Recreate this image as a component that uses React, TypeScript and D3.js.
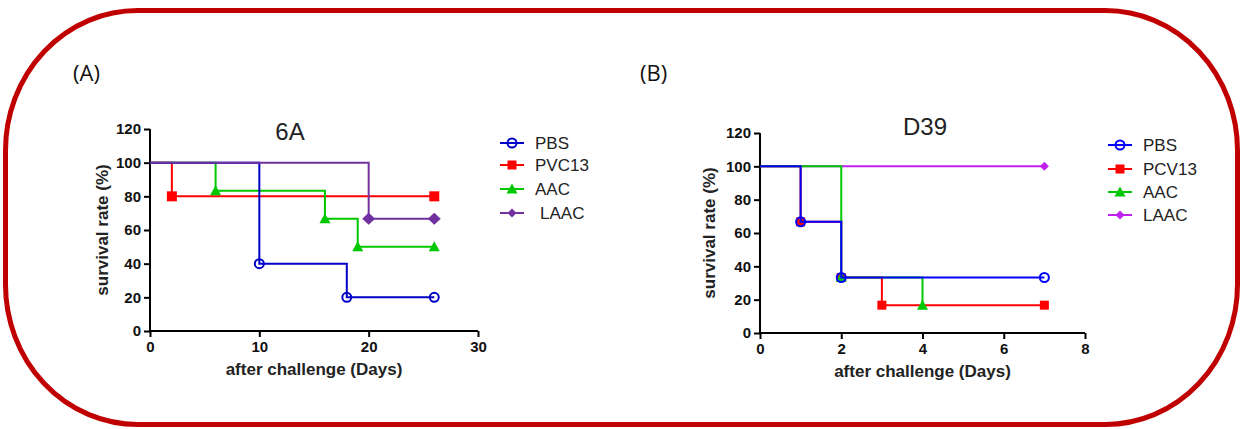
import React, { useEffect, useRef } from "react";
import * as d3 from "d3";

// Panel A (6A) - Kaplan-Meier steps: event days and survival %
const pbsA_days = [0, 10, 18, 26];
const pbsA_surv = [100, 40, 20, 20];
const pvcA_days = [0, 2, 26];
const pvcA_surv = [100, 80, 80];
const aacA_days = [0, 6, 16, 19, 26];
const aacA_surv = [100, 83.3, 66.7, 50, 50];
const laacA_days = [0, 20, 26];
const laacA_surv = [100, 66.7, 66.7];

// Panel B (D39)
const pbsB_days = [0, 1, 2, 7];
const pbsB_surv = [100, 66.7, 33.3, 33.3];
const pcvB_days = [0, 1, 2, 3, 7];
const pcvB_surv = [100, 66.7, 33.3, 16.7, 16.7];
const aacB_days = [0, 2, 4];
const aacB_surv = [100, 33.3, 16.7];
const laacB_days = [0, 7];
const laacB_surv = [100, 100];

const yTicks = [0, 20, 40, 60, 80, 100, 120];
const xTicksA = [0, 10, 20, 30];
const xTicksB = [0, 2, 4, 6, 8];

const legendA = ["PBS", "PVC13", "AAC", "LAAC"];
const legendB = ["PBS", "PCV13", "AAC", "LAAC"];

const zip = (xs, ys) => xs.map((x, i) => ({ x, y: ys[i] }));

function drawMarker(g, shape, color, cx, cy, small) {
  if (shape === "circle") {
    g.append("circle")
      .attr("cx", cx)
      .attr("cy", cy)
      .attr("r", 4.5)
      .attr("fill", "none")
      .attr("stroke", color)
      .attr("stroke-width", 2);
  } else if (shape === "square") {
    const s = small ? 9 : 10;
    g.append("rect")
      .attr("x", cx - s / 2)
      .attr("y", cy - s / 2)
      .attr("width", s)
      .attr("height", s)
      .attr("fill", color);
  } else if (shape === "triangle") {
    const w = 11, h = 9;
    g.append("path")
      .attr("transform", `translate(${cx},${cy})`)
      .attr("d", `M0,${-h / 2 - 1}L${w / 2},${h / 2}L${-w / 2},${h / 2}Z`)
      .attr("fill", color);
  } else {
    const w = small ? 9 : 13, h = small ? 9 : 12;
    g.append("path")
      .attr("transform", `translate(${cx},${cy})`)
      .attr("d", `M0,${-h / 2}L${w / 2},0L0,${h / 2}L${-w / 2},0Z`)
      .attr("fill", color);
  }
}

function drawPanel(svg, cfg) {
  const x = d3.scaleLinear().domain(cfg.xDomain).range(cfg.xRange);
  const y = d3.scaleLinear().domain([0, 120]).range(cfg.yRange);
  const font = "Arial, 'Liberation Sans', sans-serif";

  const yAxis = svg
    .append("g")
    .attr("transform", `translate(${cfg.xRange[0]},0)`)
    .call(d3.axisLeft(y).tickValues(yTicks).tickSize(6).tickPadding(3));
  const xAxis = svg
    .append("g")
    .attr("transform", `translate(0,${cfg.yRange[0]})`)
    .call(d3.axisBottom(x).tickValues(cfg.xTicks).tickSize(6).tickPadding(4));

  [yAxis, xAxis].forEach((ax) => {
    ax.select(".domain").attr("stroke", "#000").attr("stroke-width", 2);
    ax.selectAll(".tick line").attr("stroke", "#000").attr("stroke-width", 2);
    ax.selectAll("text")
      .style("font", `bold 15px ${font}`)
      .attr("fill", "#111");
  });
  yAxis.select(".domain").attr("d", `M0,${cfg.yRange[0]}V${cfg.yRange[1]}`);
  xAxis.select(".domain").attr("d", `M${cfg.xRange[0]},0H${cfg.xRange[1]}`);

  const line = d3
    .line()
    .x((d) => x(d.x))
    .y((d) => y(d.y))
    .curve(d3.curveStepAfter);

  cfg.series.forEach((s) => {
    const pts = zip(s.days, s.surv);
    const g = svg.append("g");
    g.append("path")
      .attr("d", line(pts))
      .attr("fill", "none")
      .attr("stroke", s.color)
      .attr("stroke-width", 2);
    pts.slice(1).forEach((p) => {
      drawMarker(g, s.shape, s.color, x(p.x), y(p.y), cfg.small);
    });
  });

  // title
  svg
    .append("text")
    .attr("x", cfg.titleX)
    .attr("y", cfg.titleY)
    .attr("text-anchor", "middle")
    .style("font", `24px ${font}`)
    .attr("fill", "#222")
    .text(cfg.title);

  svg
    .append("text")
    .attr("x", (cfg.xRange[0] + cfg.xRange[1]) / 2 - cfg.xLabelShift)
    .attr("y", cfg.yRange[0] + 44)
    .attr("text-anchor", "middle")
    .style("font", `bold 17px ${font}`)
    .attr("fill", "#222")
    .text("after challenge (Days)");

  svg
    .append("text")
    .attr(
      "transform",
      `translate(${cfg.yLabelX},${(cfg.yRange[0] + cfg.yRange[1]) / 2}) rotate(-90)`
    )
    .attr("text-anchor", "middle")
    .style("font", `bold 17px ${font}`)
    .attr("fill", "#222")
    .text("survival rate (%)");

  // panel letter
  svg
    .append("text")
    .attr("x", cfg.letterX)
    .attr("y", 81)
    .style("font", `22px 'Open Sans', Arial, sans-serif`)
    .attr("fill", "#111")
    .text(cfg.letter);

  // legend
  cfg.series
    .slice()
    .sort((a, b) => a.legendIndex - b.legendIndex)
    .forEach((s, i) => {
      const ly = cfg.legendY[i];
      const lg = svg.append("g");
      lg.append("line")
        .attr("x1", cfg.legendX - 12)
        .attr("x2", cfg.legendX + 12)
        .attr("y1", ly)
        .attr("y2", ly)
        .attr("stroke", s.color)
        .attr("stroke-width", 2);
      drawMarker(lg, s.shape, s.color, cfg.legendX, ly, true);
      lg.append("text")
        .attr("x", cfg.legendX + 23 + (i === 3 && !cfg.small ? 5 : 0))
        .attr("y", ly + 6)
        .style("font", `17px ${font}`)
        .attr("fill", "#222")
        .text(cfg.labels[s.legendIndex]);
    });
}

export default function App() {
  const ref = useRef(null);

  useEffect(() => {
    if (!ref.current) return;
    ref.current.innerHTML = "";
    const svg = d3
      .select(ref.current)
      .append("svg")
      .attr("width", 1244)
      .attr("height", 429)
      .style("display", "block");

    svg
      .append("rect")
      .attr("width", 1244)
      .attr("height", 429)
      .attr("fill", "#fff");

    svg
      .append("rect")
      .attr("x", 5.5)
      .attr("y", 10.5)
      .attr("width", 1232)
      .attr("height", 414)
      .attr("rx", 132)
      .attr("ry", 140)
      .attr("fill", "none")
      .attr("stroke", "#c00000")
      .attr("stroke-width", 5);

    drawPanel(svg, {
      xDomain: [0, 30],
      xRange: [150, 478],
      yRange: [331, 129],
      xTicks: xTicksA,
      title: "6A",
      titleX: 290,
      titleY: 140,
      xLabelShift: 0,
      yLabelX: 108,
      letter: "(A)",
      letterX: 73,
      legendX: 512,
      legendY: [143, 165, 189, 213],
      labels: legendA,
      small: false,
      series: [
        { days: pvcA_days, surv: pvcA_surv, color: "#ff0000", shape: "square", legendIndex: 1 },
        { days: aacA_days, surv: aacA_surv, color: "#00c800", shape: "triangle", legendIndex: 2 },
        { days: pbsA_days, surv: pbsA_surv, color: "#0000c8", shape: "circle", legendIndex: 0 },
        { days: laacA_days, surv: laacA_surv, color: "#7030a0", shape: "diamond", legendIndex: 3 },
      ],
    });

    drawPanel(svg, {
      xDomain: [0, 8],
      xRange: [760, 1085],
      yRange: [333, 133],
      xTicks: xTicksB,
      title: "D39",
      titleX: 925,
      titleY: 135,
      xLabelShift: 0,
      yLabelX: 715,
      letter: "(B)",
      letterX: 640,
      legendX: 1120,
      legendY: [145, 169, 192, 215],
      labels: legendB,
      small: true,
      series: [
        { days: laacB_days, surv: laacB_surv, color: "#c020f0", shape: "diamond", legendIndex: 3 },
        { days: pcvB_days, surv: pcvB_surv, color: "#ff0000", shape: "square", legendIndex: 1 },
        { days: aacB_days, surv: aacB_surv, color: "#00c800", shape: "triangle", legendIndex: 2 },
        { days: pbsB_days, surv: pbsB_surv, color: "#0000ff", shape: "circle", legendIndex: 0 },
      ],
    });
  }, []);

  return <div ref={ref} style={{ position: "absolute", left: 0, top: 0 }} />;
}
